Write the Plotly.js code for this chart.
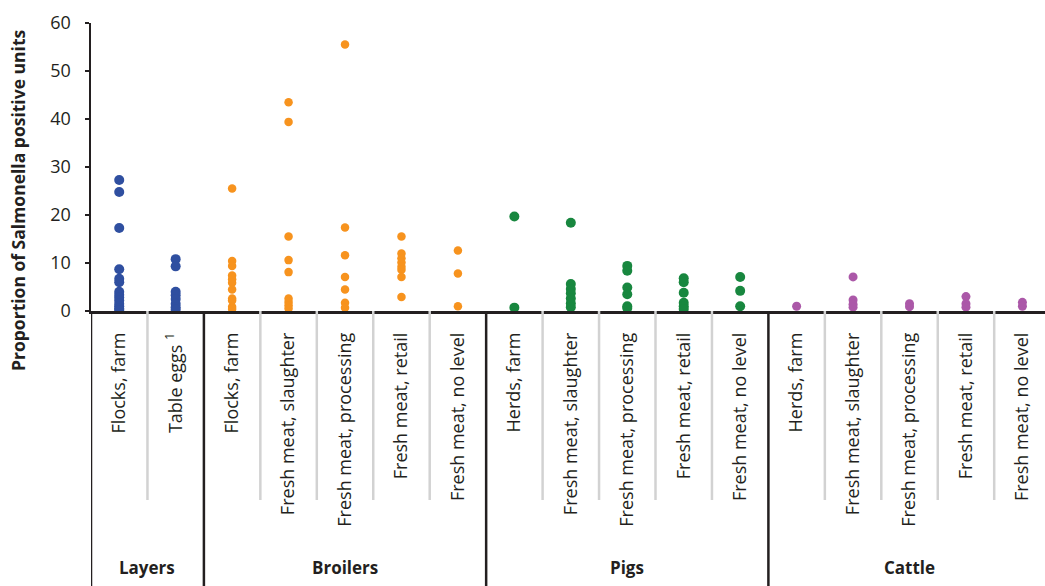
<!DOCTYPE html>
<html>
<head>
<meta charset="utf-8">
<script src="https://cdn.plot.ly/plotly-3.0.1.min.js"></script>
<style>
  html, body { margin: 0; padding: 0; background: #ffffff; }
  #chart { width: 1045px; height: 586px; }
</style>
</head>
<body>
<div id="chart"></div>
<script>
// ---------------- DATA ----------------
const groups = ["Layers", "Broilers", "Pigs", "Cattle"];
const categoryGroup = ["Layers", "Layers",
  "Broilers", "Broilers", "Broilers", "Broilers", "Broilers",
  "Pigs", "Pigs", "Pigs", "Pigs", "Pigs",
  "Cattle", "Cattle", "Cattle", "Cattle", "Cattle"];
const categoryLabels = ["Flocks, farm", "Table eggs <sup>1</sup>",
  "Flocks, farm", "Fresh meat, slaughter", "Fresh meat, processing", "Fresh meat, retail", "Fresh meat, no level",
  "Herds, farm", "Fresh meat, slaughter", "Fresh meat, processing", "Fresh meat, retail", "Fresh meat, no level",
  "Herds, farm", "Fresh meat, slaughter", "Fresh meat, processing", "Fresh meat, retail", "Fresh meat, no level"];
const yAxisTitle = "Proportion of Salmonella positive units";

// Layers
const layersFlocksFarm = [27.3, 24.8, 17.3, 8.7, 6.7, 6.0, 4.0, 3.4, 2.8, 2.2, 1.5, 1.0, 0.5, 0.2];
const layersTableEggs = [10.8, 9.3, 4.0, 3.3, 2.5, 1.5, 0.8, 0.3];
// Broilers
const broilersFlocksFarm = [25.5, 10.4, 9.4, 7.4, 6.6, 5.9, 4.5, 2.6, 2.2, 0.9, 0.4];
const broilersSlaughter = [43.5, 39.4, 15.5, 10.6, 8.1, 2.6, 1.9, 1.2, 0.5];
const broilersProcessing = [55.5, 17.4, 11.6, 7.1, 4.5, 1.7, 0.7];
const broilersRetail = [15.5, 12.0, 11.0, 10.1, 9.2, 8.6, 7.1, 2.9];
const broilersNoLevel = [12.6, 7.8, 1.0];
// Pigs
const pigsHerdsFarm = [19.7, 0.7];
const pigsSlaughter = [18.4, 5.6, 4.6, 3.7, 2.6, 1.6, 0.8];
const pigsProcessing = [9.4, 8.4, 4.9, 3.5, 1.0, 0.6];
const pigsRetail = [6.8, 6.0, 3.8, 1.7, 1.0, 0.4];
const pigsNoLevel = [7.1, 4.2, 1.0];
// Cattle
const cattleHerdsFarm = [1.0];
const cattleSlaughter = [7.1, 2.3, 1.4, 0.8];
const cattleProcessing = [1.5, 0.9];
const cattleRetail = [3.0, 1.5, 0.8];
const cattleNoLevel = [1.8, 1.0];

const valuesByCategory = [layersFlocksFarm, layersTableEggs,
  broilersFlocksFarm, broilersSlaughter, broilersProcessing, broilersRetail, broilersNoLevel,
  pigsHerdsFarm, pigsSlaughter, pigsProcessing, pigsRetail, pigsNoLevel,
  cattleHerdsFarm, cattleSlaughter, cattleProcessing, cattleRetail, cattleNoLevel];

const yTickValues = [0, 10, 20, 30, 40, 50, 60];

// ---------------- STYLE ----------------
const groupColors = { Layers: "#2f4fa0", Broilers: "#f7931e", Pigs: "#18873f", Cattle: "#ab58a8" };
const groupMarkerSize = { Layers: 10, Broilers: 8.5, Pigs: 10, Cattle: 9 };
const textColor = "#231f20";
const font = "'Open Sans', 'Noto Sans', sans-serif";

// unique category keys (names repeat across groups)
const categoryKeys = categoryLabels.map((c, i) => categoryGroup[i] + " | " + c);

// ---------------- TRACES ----------------
const traces = groups.map(g => {
  const xs = [], ys = [];
  categoryKeys.forEach((k, i) => {
    if (categoryGroup[i] !== g) return;
    valuesByCategory[i].forEach(v => { xs.push(k); ys.push(v); });
  });
  return {
    type: "scatter", mode: "markers", name: g,
    x: xs, y: ys,
    marker: { color: groupColors[g], size: groupMarkerSize[g], line: { width: 0 } },
    hoverinfo: "y", showlegend: false
  };
});

// ---------------- SHAPES / ANNOTATIONS ----------------
const plotL = 91, plotW = 1045 - 91;
const plotH = 586 - 23 - 275;
const minorBottom = (311 - 500) / plotH;
const majorBottom = -1.05;
const shapes = [];
for (let i = 0; i < categoryKeys.length - 1; i++) {
  const same = categoryGroup[i] === categoryGroup[i + 1];
  shapes.push({
    type: "line", xref: "x", yref: "paper",
    x0: i + 0.5, x1: i + 0.5, y0: 0, y1: same ? minorBottom : majorBottom,
    line: { color: same ? "#d2d2d2" : textColor, width: 2.5 },
    layer: "above"
  });
}
// extension of the y axis line below the plot
shapes.push({ type: "line", xref: "x", yref: "paper", x0: -0.5, x1: -0.5, y0: 0, y1: majorBottom,
  line: { color: textColor, width: 2.5 } });

const annotations = groups.map(g => {
  const idx = categoryGroup.map((cg, i) => cg === g ? i : -1).filter(i => i >= 0);
  const center = (idx[0] + idx[idx.length - 1]) / 2;
  return {
    xref: "x", yref: "paper", x: center, y: (311 - 567) / plotH,
    text: "<b>" + g + "</b>", showarrow: false,
    xanchor: "center", yanchor: "middle",
    font: { family: font, size: 17, color: textColor }
  };
});
// y axis title (positioned like the reference)
annotations.push({
  xref: "paper", yref: "paper",
  x: (18 - plotL) / plotW, y: (311 - 201) / plotH,
  text: "<b>" + yAxisTitle + "</b>", textangle: -90, showarrow: false,
  xanchor: "center", yanchor: "middle",
  font: { family: font, size: 17.5, color: textColor }
});

const layout = {
  width: 1045, height: 586,
  margin: { l: 91, r: 0, t: 23, b: 275, pad: 0 },
  paper_bgcolor: "#ffffff", plot_bgcolor: "#ffffff",
  font: { family: font, color: textColor },
  xaxis: {
    type: "category", categoryorder: "array", categoryarray: categoryKeys,
    range: [-0.5, categoryKeys.length - 0.6],
    tickmode: "array", tickvals: categoryKeys, ticktext: categoryLabels,
    tickangle: -90, ticks: "", ticklabelstandoff: 12,
    tickfont: { family: font, size: 18, color: textColor },
    showgrid: false, zeroline: false,
    showline: true, linecolor: textColor, linewidth: 2.5,
    fixedrange: true
  },
  yaxis: {
    range: [0, 60], tickvals: yTickValues,
    ticks: "outside", ticklen: 4, tickwidth: 1.5, tickcolor: textColor,
    ticklabelstandoff: 10,
    tickfont: { family: font, size: 18, color: textColor },
    showgrid: false, zeroline: false,
    showline: true, linecolor: textColor, linewidth: 2.5,
    fixedrange: true
  },
  shapes: shapes,
  annotations: annotations,
  hovermode: "closest"
};

Plotly.newPlot("chart", traces, layout, { displayModeBar: false, staticPlot: true });
</script>
</body>
</html>
